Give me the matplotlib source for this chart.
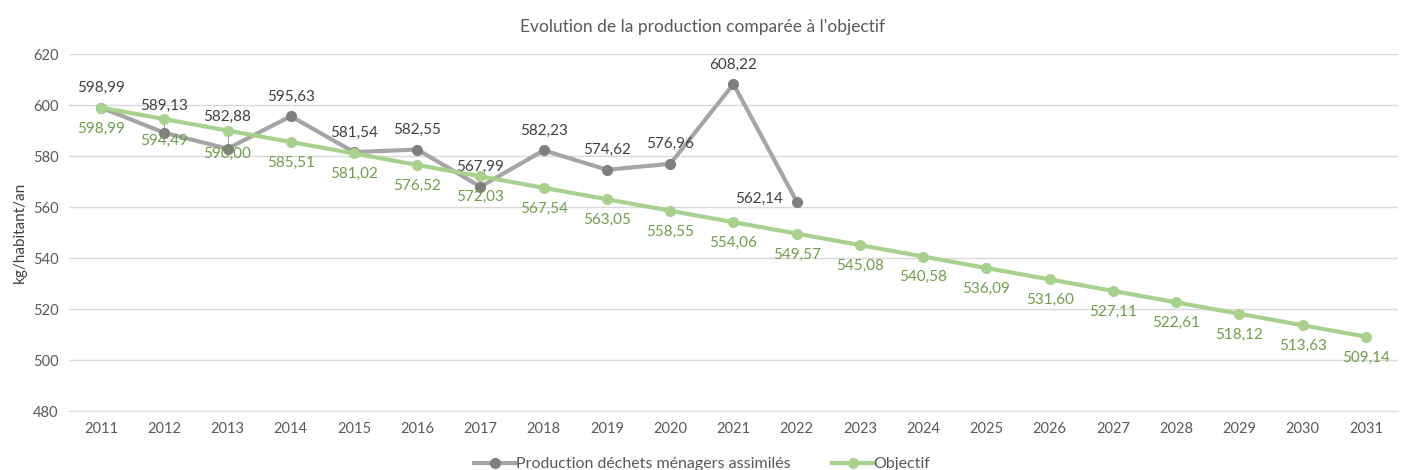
import matplotlib.pyplot as plt

# Data
years = list(range(2011, 2032))
prod_years = list(range(2011, 2023))
production = [598.99, 589.13, 582.88, 595.63, 581.54, 582.55, 567.99, 582.23,
              574.62, 576.96, 608.22, 562.14]
objectif = [598.99, 594.49, 590.00, 585.51, 581.02, 576.52, 572.03, 567.54,
            563.05, 558.55, 554.06, 549.57, 545.08, 540.58, 536.09, 531.60,
            527.11, 522.61, 518.12, 513.63, 509.14]

def fr(v):
    return f"{v:.2f}".replace(".", ",")

plt.rcParams['font.family'] = ['Lato', 'DejaVu Sans']

gray_line = "#A5A5A5"
gray_mark = "#7F7F7F"
green = "#A9D18E"
green_txt = "#6E9E4A"
txt = "#595959"

fig = plt.figure(figsize=(14.05, 4.70), dpi=100)
ax = fig.add_axes([0.0494, 0.1255, 0.9453, 0.7595])

x_prod = [years.index(y) for y in prod_years]
x_obj = list(range(len(years)))

# leader lines
for i in (1, 2):
    ax.plot([i, i], [production[i], objectif[i]], color="#A5A5A5", lw=0.8, zorder=2)

ax.plot(x_prod, production, color=gray_line, lw=3, marker="o", ms=7,
        markerfacecolor=gray_mark, markeredgecolor=gray_mark, zorder=3,
        label="Production déchets ménagers assimilés")
ax.plot(x_obj, objectif, color=green, lw=3, marker="o", ms=7,
        markerfacecolor=green, markeredgecolor=green, zorder=4,
        label="Objectif")

# label offsets (points)
gray_off = {1: 19, 2: 23}
green_off = {1: -16, 2: -17}

for i, v in zip(x_prod, production):
    if i == len(production) - 1:
        ax.annotate(fr(v), (i, v), xytext=(-10, 2), textcoords="offset points",
                    ha="right", va="center", fontsize=11, color="#404040")
    else:
        ax.annotate(fr(v), (i, v), xytext=(0, gray_off.get(i, 14)),
                    textcoords="offset points", ha="center", va="center",
                    fontsize=11, color="#404040")

for i, v in zip(x_obj, objectif):
    ax.annotate(fr(v), (i, v), xytext=(0, green_off.get(i, -15)),
                textcoords="offset points", ha="center", va="center",
                fontsize=11, color=green_txt)

ax.set_xlim(-0.5, len(years) - 0.5)
ax.set_ylim(480, 620)
ax.set_yticks(range(480, 621, 20))
ax.set_xticks(x_obj)
ax.set_xticklabels([str(y) for y in years])
ax.tick_params(axis="both", length=0, labelsize=10.5, colors=txt, pad=8)
ax.grid(axis="y", color="#D9D9D9", lw=1)
ax.set_axisbelow(True)
for s in ax.spines.values():
    s.set_visible(False)
ax.spines["bottom"].set_visible(True)
ax.spines["bottom"].set_color("#D9D9D9")

ax.set_ylabel("kg/habitant/an", fontsize=11, color="#404040", labelpad=4)
fig.suptitle("Evolution de la production comparée à l'objectif", y=0.96,
             fontsize=12.5, color=txt)

fig.legend(loc="center", bbox_to_anchor=(0.5, 0.012), ncol=2, frameon=False,
           fontsize=11.5, labelcolor=txt, handlelength=2.6, columnspacing=2.6,
           handletextpad=0.0)

fig.savefig("out.png", dpi=100)
